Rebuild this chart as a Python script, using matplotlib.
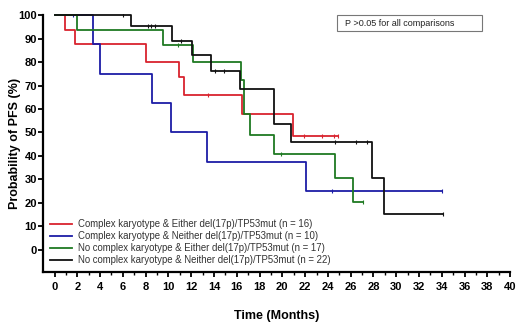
import numpy as np
import matplotlib
matplotlib.use("Agg")
import matplotlib.pyplot as plt
from matplotlib.patches import Rectangle

plt.rcParams["font.family"] = ["Liberation Sans", "DejaVu Sans"]

# Kaplan-Meier step curves (time in months, PFS %)
red_t = [0, 0.9, 1.8, 8.0, 10.9, 11.4, 16.5, 20.9, 24.9]
red_s = [100, 93.8, 87.5, 80.2, 73.5, 66.0, 58.0, 48.4, 48.4]
red_cens = [13.5, 21.9, 23.5, 24.5, 24.9]

blue_t = [0, 3.4, 4.0, 8.6, 10.2, 13.4, 22.1, 34.0]
blue_s = [100, 87.5, 75.0, 62.5, 50.0, 37.5, 25.0, 25.0]
blue_cens = [1.6, 24.4, 34.0]

green_t = [0, 2.0, 9.5, 12.2, 16.4, 16.6, 17.2, 19.3, 24.6, 26.2, 27.1]
green_s = [100, 93.8, 87.2, 80.0, 72.5, 57.8, 49.0, 40.8, 30.6, 20.4, 20.4]
green_cens = [10.8, 19.9, 27.1]

black_t = [0, 6.7, 10.3, 12.1, 13.7, 16.3, 19.3, 20.8, 27.9, 28.9, 34.1]
black_s = [100, 95.2, 88.9, 82.8, 76.2, 68.7, 53.6, 45.8, 30.4, 15.2, 15.2]
black_cens = [6.0, 8.2, 8.5, 8.8, 11.1, 14.1, 14.9, 24.6, 26.5, 27.4, 34.1]

labels = [
    "Complex karyotype & Either del(17p)/TP53mut (n = 16)",
    "Complex karyotype & Neither del(17p)/TP53mut (n = 10)",
    "No complex karyotype & Either del(17p)/TP53mut (n = 17)",
    "No complex karyotype & Neither del(17p)/TP53mut (n = 22)",
]
colors = ["#d9232e", "#1c1ca6", "#1f7a22", "#111111"]


def step_value(t, s, x):
    # value of the post-step curve at time x
    idx = np.searchsorted(t, x, side="right") - 1
    return np.asarray(s)[idx]


fig = plt.figure(figsize=(5.2, 3.25), dpi=100)
ax = fig.add_axes([0.083, 0.163, 0.898, 0.794])

curves = [(red_t, red_s, red_cens), (blue_t, blue_s, blue_cens),
          (green_t, green_s, green_cens), (black_t, black_s, black_cens)]
for (t, s, cens), col, lab in zip(curves, colors, labels):
    ax.step(t, s, where="post", color=col, lw=1.3, label=lab)
    ax.plot(cens, step_value(t, s, cens), ls="none", marker="|",
            ms=3, mew=0.8, color=col)

ax.set_xlim(-1, 40)
ax.set_ylim(-9.5, 100.5)
ax.spines["top"].set_visible(False)
ax.spines["right"].set_visible(False)
ax.spines["left"].set_bounds(-9.5, 100)
ax.spines["bottom"].set_bounds(-1, 40)
for sp in ("left", "bottom"):
    ax.spines[sp].set_linewidth(1.6)

ax.set_yticks(np.arange(0, 101, 10))
ax.set_xticks(np.arange(0, 41, 2))
ax.set_xticks(np.arange(0, 41, 1), minor=True)
ax.tick_params(axis="both", which="major", labelsize=8, width=1.3, length=3.5)
ax.tick_params(axis="y", which="major", pad=1)
ax.tick_params(axis="x", which="minor", width=1.0, length=2.5)
for lbl in ax.get_xticklabels() + ax.get_yticklabels():
    lbl.set_fontweight("bold")

ax.set_ylabel("Probability of PFS (%)", fontsize=9, fontweight="bold")
ax.yaxis.set_label_coords(-0.048, 0.5)
ax.set_xlabel("Time (Months)", fontsize=9, fontweight="bold", labelpad=13)

leg = ax.legend(loc="lower left", bbox_to_anchor=(0.0, 0.0), frameon=False,
                fontsize=6.9, handlelength=2.3, handletextpad=0.6,
                labelspacing=0.22, borderaxespad=0.3)
for txt in leg.get_texts():
    txt.set_color("#333333")

fig.add_artist(Rectangle((0.648, 0.905), 0.279, 0.049, transform=fig.transFigure,
                         fill=False, edgecolor="#777777", lw=0.8))
fig.text(0.663, 0.929, "P >0.05 for all comparisons", fontsize=6.5,
         va="center", ha="left", color="#222222")

fig.savefig("out.png", dpi=100)
